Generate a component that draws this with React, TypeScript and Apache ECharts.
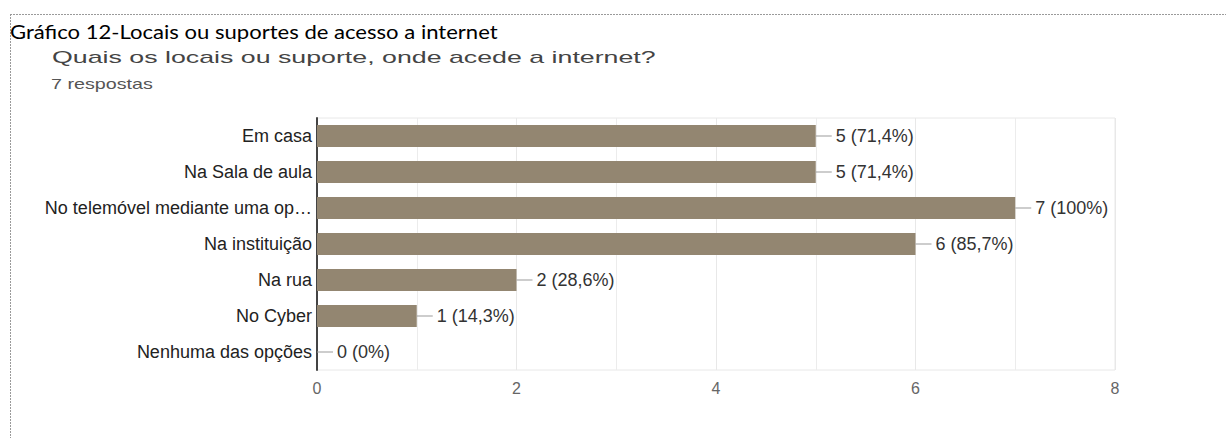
import React, { useEffect, useRef } from "react";
import * as echarts from "echarts";

const docTitle = "Gráfico 12-Locais ou suportes de acesso a internet";
const question = "Quais os locais ou suporte, onde acede a internet?";
const responses = "7 respostas";
const categories = [
  "Em casa",
  "Na Sala de aula",
  "No telemóvel mediante uma op…",
  "Na instituição",
  "Na rua",
  "No Cyber",
  "Nenhuma das opções",
];
const counts = [5, 5, 7, 6, 2, 1, 0];
const percents = ["71,4%", "71,4%", "100%", "85,7%", "28,6%", "14,3%", "0%"];
const xTicks = [0, 2, 4, 6, 8];

const SANS = "Liberation Sans, Arial, sans-serif";

function measure(text: string, font: string): number {
  const ctx = document.createElement("canvas").getContext("2d");
  if (!ctx) return 1;
  ctx.font = font;
  return ctx.measureText(text).width || 1;
}

export default function App() {
  const ref = useRef<HTMLDivElement>(null);

  useEffect(() => {
    if (!ref.current) return;
    const chart = echarts.init(ref.current, undefined, { renderer: "svg" });

    const titleFont = "20px Lato";
    const qFont = "17px 'Liberation Sans'";
    const rFont = "14px 'Liberation Sans'";
    const sTitle = 488 / measure(docTitle, titleFont);
    const sQ = 604 / measure(question, qFont);
    const sR = 102 / measure(responses, rFont);

    chart.setOption({
      animation: false,
      backgroundColor: "#ffffff",
      graphic: [
        {
          type: "line",
          shape: { x1: 10, y1: 14.5, x2: 1226, y2: 14.5 },
          style: { stroke: "#9a9a9a", lineWidth: 1, lineDash: [2, 1] },
          silent: true,
        },
        {
          type: "line",
          shape: { x1: 10.5, y1: 14, x2: 10.5, y2: 438 },
          style: { stroke: "#9a9a9a", lineWidth: 1, lineDash: [2, 1] },
          silent: true,
        },
        {
          type: "text",
          x: 10,
          y: 31,
          scaleX: sTitle,
          style: {
            text: docTitle,
            fontFamily: "Lato",
            fontSize: 20,
            fill: "#000000",
            textAlign: "left",
            textVerticalAlign: "middle",
          },
        },
        {
          type: "text",
          x: 52,
          y: 57,
          scaleX: sQ,
          style: {
            text: question,
            fontFamily: "Liberation Sans",
            fontSize: 17,
            fill: "#444444",
            textAlign: "left",
            textVerticalAlign: "middle",
          },
        },
        {
          type: "text",
          x: 51,
          y: 84,
          scaleX: sR,
          style: {
            text: responses,
            fontFamily: "Liberation Sans",
            fontSize: 14,
            fill: "#555555",
            textAlign: "left",
            textVerticalAlign: "middle",
          },
        },
      ],
      grid: {
        left: 317,
        right: 111,
        top: 118,
        bottom: 68,
        show: true,
        borderColor: "#e8e8e8",
        borderWidth: 1,
        backgroundColor: "transparent",
      },
      xAxis: {
        type: "value",
        min: xTicks[0],
        max: xTicks[xTicks.length - 1],
        interval: xTicks[1] - xTicks[0],
        axisLine: { show: false },
        axisTick: { show: false },
        axisLabel: {
          color: "#666666",
          fontSize: 16,
          fontFamily: SANS,
          margin: 10,
        },
        splitLine: { show: true, lineStyle: { color: "#e8e8e8", width: 1 } },
        minorTick: { show: false, splitNumber: 2 },
        minorSplitLine: { show: true, lineStyle: { color: "#ececec", width: 1 } },
      },
      yAxis: {
        type: "category",
        data: categories,
        inverse: true,
        axisLine: { show: true, lineStyle: { color: "#444444", width: 2 } },
        axisTick: { show: false },
        splitLine: { show: false },
        axisLabel: {
          color: "#222222",
          fontSize: 18,
          fontFamily: SANS,
          margin: 5,
        },
      },
      series: [
        {
          type: "bar",
          data: counts,
          barWidth: 22,
          itemStyle: { color: "#938671" },
          label: {
            show: true,
            position: "right",
            distance: 0,
            fontFamily: SANS,
            formatter: (p: any) =>
              `{l|}{t|${counts[p.dataIndex]} (${percents[p.dataIndex]})}`,
            rich: {
              l: { width: 16, height: 1, backgroundColor: "#9a9a9a" },
              t: {
                fontSize: 18,
                color: "#333333",
                fontFamily: SANS,
                padding: [0, 0, 0, 4],
              },
            },
          },
        },
      ],
    });

    return () => chart.dispose();
  }, []);

  return (
    <div
      ref={ref}
      style={{ position: "absolute", left: 0, top: 0, width: 1226, height: 438 }}
    />
  );
}
